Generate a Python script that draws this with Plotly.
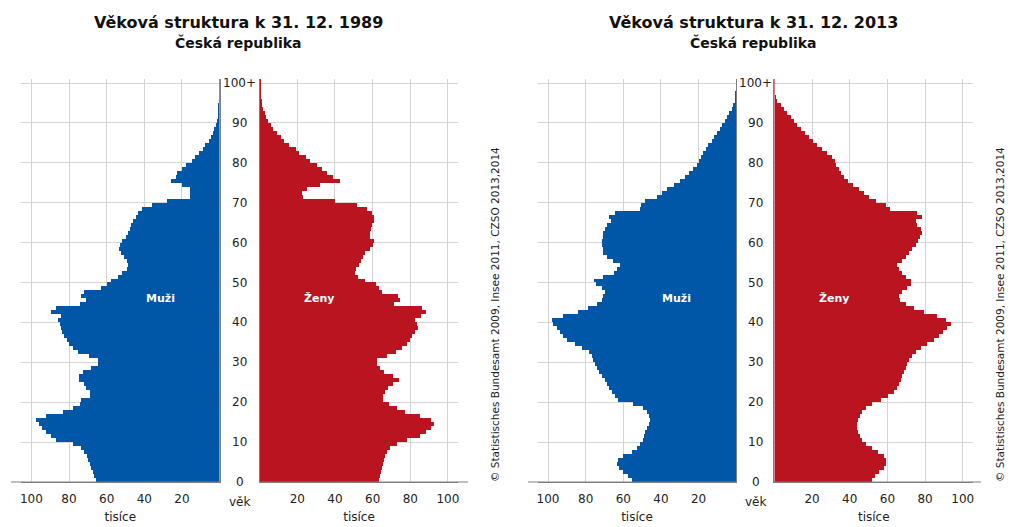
import plotly.graph_objects as go

# ---------------- data (thousands of persons, ages 0 .. 100+) ----------------
ages = list(range(101))

men_1989 = [65.5, 66.5, 67.4, 68.5, 69.0, 69.7, 70.5, 72.0, 73.6, 78.0,
            87.0, 89.4, 92.0, 94.4, 96.0, 97.7, 92.0, 83.0, 78.0, 74.0,
            73.6, 68.7, 68.7, 71.0, 72.0, 74.5, 74.5, 72.7, 68.3, 64.8,
            64.8, 69.2, 75.4, 78.0, 79.8, 81.0, 82.4, 83.8, 84.5, 85.0,
            85.6, 84.0, 89.5, 86.8, 74.0, 71.0, 73.6, 71.8, 63.0, 60.0,
            57.7, 54.2, 51.6, 49.3, 48.6, 49.3, 50.7, 52.5, 53.3, 52.8,
            51.6, 49.8, 48.6, 47.5, 46.8, 45.8, 44.5, 43.3, 41.0, 35.7,
            27.8, 15.5, 15.5, 15.5, 20.0, 25.7, 23.4, 22.5, 20.0, 18.1,
            14.6, 12.8, 10.7, 9.0, 7.6, 5.8, 4.6, 3.5, 2.8, 2.1,
            1.4, 1.0, 0.8, 0.6, 0.4, 0.3, 0.2, 0.15, 0.1, 0.1,
            0.1]

women_1989 = [63.0, 63.8, 64.5, 65.0, 65.6, 66.0, 66.5, 67.4, 69.0, 72.7,
              78.0, 85.0, 88.0, 91.0, 92.5, 91.0, 85.0, 77.0, 72.7, 68.3,
              65.3, 65.6, 66.5, 68.0, 70.5, 74.0, 70.9, 66.0, 63.5, 62.0,
              62.0, 67.4, 72.0, 75.5, 78.0, 79.7, 80.6, 82.4, 84.1, 83.2,
              82.4, 85.4, 88.2, 85.9, 71.2, 74.4, 73.5, 64.7, 63.0, 61.7,
              56.0, 52.0, 50.6, 51.0, 52.4, 53.6, 54.7, 55.9, 58.6, 60.0,
              60.3, 58.6, 58.6, 58.9, 59.4, 60.3, 60.7, 59.4, 56.8, 51.5,
              40.0, 23.0, 22.4, 25.0, 32.0, 42.3, 38.8, 35.6, 33.0, 30.3,
              26.8, 24.2, 20.6, 18.9, 15.3, 13.0, 10.9, 8.8, 7.0, 5.6,
              4.2, 3.4, 2.5, 1.8, 1.2, 0.7, 0.5, 0.3, 0.2, 0.1,
              0.2]

men_2013 = [55.8, 57.5, 60.2, 62.3, 63.4, 62.8, 60.2, 55.8, 53.1, 51.3,
            49.9, 49.2, 48.5, 47.8, 46.4, 46.0, 46.4, 47.4, 49.6, 54.9,
            62.8, 64.6, 66.4, 67.6, 68.7, 69.9, 71.7, 72.9, 74.3, 75.2,
            76.1, 77.0, 78.2, 82.3, 85.8, 90.3, 92.4, 93.8, 95.6, 97.3,
            98.2, 92.0, 84.0, 78.8, 74.3, 71.7, 70.8, 69.9, 71.7, 74.7,
            75.8, 70.8, 65.1, 63.4, 62.0, 65.5, 69.0, 70.8, 71.2, 71.5,
            71.5, 71.2, 70.8, 69.9, 68.7, 66.9, 67.6, 64.6, 51.3, 51.0,
            48.7, 42.5, 39.8, 37.2, 33.3, 30.1, 27.4, 25.1, 23.0, 21.2,
            19.8, 18.9, 17.7, 16.3, 15.0, 13.3, 11.9, 10.3, 8.8, 7.6,
            6.2, 5.0, 3.9, 2.7, 1.8, 0.9, 0.6, 0.4, 0.3, 0.2,
            0.2]

women_2013 = [52.2, 53.6, 55.8, 58.4, 59.6, 59.3, 58.4, 55.4, 51.9, 48.7,
              46.5, 45.5, 44.8, 44.2, 44.2, 44.8, 45.5, 46.5, 48.7, 52.2,
              56.6, 60.7, 63.7, 65.5, 66.4, 67.3, 68.1, 69.0, 69.9, 70.8,
              71.7, 73.1, 75.2, 77.9, 81.4, 85.0, 87.6, 89.7, 92.0, 93.8,
              91.2, 86.7, 79.6, 74.3, 69.9, 66.7, 66.4, 68.1, 70.8, 72.6,
              72.6, 69.9, 67.8, 66.4, 65.5, 68.1, 70.3, 71.7, 73.5, 75.2,
              76.6, 77.3, 78.4, 77.9, 76.1, 75.2, 78.4, 76.1, 61.4, 59.3,
              54.0, 50.4, 47.8, 45.1, 41.9, 39.5, 37.2, 35.8, 34.5, 33.1,
              32.4, 31.0, 28.3, 25.7, 23.0, 20.7, 18.6, 16.5, 14.2, 12.4,
              10.6, 8.8, 7.1, 5.3, 3.5, 1.8, 0.9, 0.5, 0.3, 0.2,
              0.4]

age_tick_vals = [0, 10, 20, 30, 40, 50, 60, 70, 80, 90, 100]
age_tick_text = ["0", "10", "20", "30", "40", "50", "60", "70", "80", "90", "100+"]
value_tick_vals = [20, 40, 60, 80, 100]
value_tick_text = ["20", "40", "60", "80", "100"]

titles = ["Věková struktura k 31. 12. 1989", "Věková struktura k 31. 12. 2013"]
subtitle = "Česká republika"
source = "© Statistisches Bundesamt 2009, Insee 2011, CZSO 2013,2014"

# ---------------- styling ----------------
PAGE_W, PAGE_H = 1014, 527
OFF = 8  # default body margin of the html page
W, H = PAGE_W - OFF, PAGE_H - OFF
BLUE = "#0057a8"
RED = "#b9141f"
GRID = "#d4d4d4"
AXIS = "#7f7f7f"
TXT = "#222222"
FONT = "DejaVu Sans"


def fx(px):
    return (px - OFF) / W


def fy(py):
    return 1 - (py - OFF) / H


Y0, PX_PER_YEAR = 482.0, 3.99
y_dom = [fy(Y0), fy(Y0 - 101 * PX_PER_YEAR)]
X_MAX = 105.5
PX_PER_UNIT = 1.886

zero_px = {"m1": 219.0, "f1": 259.2, "m2": 736.7, "f2": 775.0}
center_px = [239.0, 756.0]

fig = go.Figure()

panels = [
    ("x", "y", men_1989, BLUE, zero_px["m1"], True),
    ("x2", "y2", women_1989, RED, zero_px["f1"], False),
    ("x3", "y3", men_2013, BLUE, zero_px["m2"], True),
    ("x4", "y4", women_2013, RED, zero_px["f2"], False),
]

bar_y = [a + 0.5 for a in ages]

layout_axes = {}
for i, (xa, ya, vals, col, zpx, left) in enumerate(panels):
    fig.add_trace(go.Bar(
        x=vals, y=bar_y, orientation="h", width=1.0,
        marker=dict(color=col, line=dict(width=0)),
        xaxis=xa, yaxis=ya, showlegend=False, hoverinfo="x+y"))
    if left:
        dom = [fx(zpx - X_MAX * PX_PER_UNIT), fx(zpx)]
        rng = [X_MAX, 0]
    else:
        dom = [fx(zpx), fx(zpx + X_MAX * PX_PER_UNIT)]
        rng = [0, X_MAX]
    xkey = "xaxis" if xa == "x" else "xaxis" + xa[1:]
    ykey = "yaxis" if ya == "y" else "yaxis" + ya[1:]
    layout_axes[xkey] = dict(
        domain=dom, range=rng, anchor=ya, tickvals=value_tick_vals,
        ticktext=value_tick_text, showgrid=True, gridcolor=GRID, gridwidth=1,
        showline=True, linecolor=AXIS, linewidth=1, zeroline=False,
        ticks="outside", ticklen=6, tickcolor="rgba(0,0,0,0)",
        tickfont=dict(family=FONT, size=12, color=TXT), fixedrange=True,
        title=dict(text="tisíce", font=dict(family=FONT, size=12, color=TXT),
                   standoff=7))
    layout_axes[ykey] = dict(
        domain=y_dom, range=[0, 101], anchor=xa, side="right" if left else "left",
        tickvals=age_tick_vals, showticklabels=False, showgrid=True,
        gridcolor=GRID, gridwidth=1, showline=True, linecolor=AXIS, linewidth=1,
        zeroline=False, ticks="", fixedrange=True)

fig.update_layout(**layout_axes)

annotations = []
for cpx, ya in zip(center_px, ["y", "y3"]):
    for v, t in zip(age_tick_vals, age_tick_text):
        annotations.append(dict(
            x=fx(cpx), xref="paper", y=v, yref=ya, text=t, showarrow=False,
            xanchor="center", yanchor="middle",
            font=dict(family=FONT, size=12, color=TXT)))
    annotations.append(dict(
        x=fx(cpx), xref="paper", y=fy(502), yref="paper", text="věk",
        showarrow=False, xanchor="center", yanchor="middle",
        font=dict(family=FONT, size=12, color=TXT)))

for cpx, t in zip([238.0, 754.0], titles):
    annotations.append(dict(
        x=fx(cpx), xref="paper", y=fy(22.5), yref="paper", text="<b>%s</b>" % t,
        showarrow=False, xanchor="center", yanchor="middle",
        font=dict(family=FONT, size=16, color="#111111")))
    annotations.append(dict(
        x=fx(cpx), xref="paper", y=fy(43), yref="paper", text="<b>%s</b>" % subtitle,
        showarrow=False, xanchor="center", yanchor="middle",
        font=dict(family=FONT, size=14, color="#111111")))

for xa, ya, lab in [("x", "y", "Muži"), ("x2", "y2", "Ženy"),
                    ("x3", "y3", "Muži"), ("x4", "y4", "Ženy")]:
    annotations.append(dict(
        x=31.5, xref=xa, y=46.1, yref=ya, text="<b>%s</b>" % lab,
        showarrow=False, xanchor="center", yanchor="middle",
        font=dict(family=FONT, size=11, color="white")))

for spx in [495.0, 1001.0]:
    annotations.append(dict(
        x=fx(spx), xref="paper", y=fy(315), yref="paper", text=source,
        textangle=-90, showarrow=False, xanchor="center", yanchor="middle",
        font=dict(family=FONT, size=10.5, color=TXT)))

shapes = []
for a, b in [(10, 219), (259.2, 468), (528, 736.7), (775, 982)]:
    shapes.append(dict(type="line", xref="paper", yref="paper",
                       x0=fx(a), x1=fx(b), y0=fy(Y0), y1=fy(Y0),
                       line=dict(color=AXIS, width=1)))

fig.update_layout(
    width=W, height=H, margin=dict(l=0, r=0, t=0, b=0),
    paper_bgcolor="white", plot_bgcolor="white",
    bargap=0, barmode="overlay",
    annotations=annotations, shapes=shapes,
    font=dict(family=FONT, size=12, color=TXT),
)

fig.write_html("out.html")
